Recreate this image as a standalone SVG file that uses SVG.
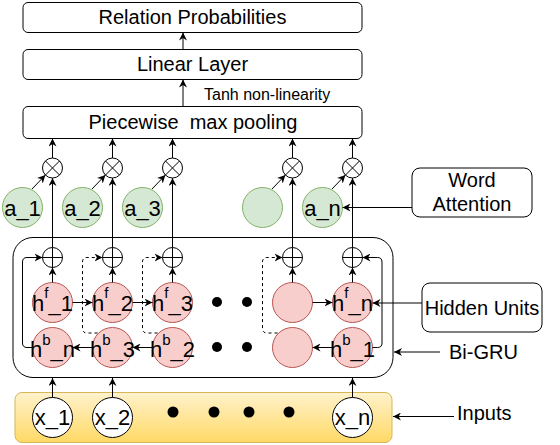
<svg xmlns="http://www.w3.org/2000/svg" width="560" height="445" viewBox="0 0 560 445">
<style>
text{font-family:"Liberation Sans",Arial,sans-serif;fill:#000}
.lbl{font-size:20px}
.cl{font-size:22px;text-anchor:middle}
.box{fill:#fff;stroke:#000;stroke-width:1}
.g{fill:#d5e8d4;stroke:#82b366;stroke-width:1}
.r{fill:#f8cecc;stroke:#b85450;stroke-width:1}
.w{fill:#fff;stroke:#000;stroke-width:1}
.op{fill:#fff;stroke:#000;stroke-width:1}
.ln{fill:none;stroke:#000;stroke-width:1}
.a{fill:none;stroke:#000;stroke-width:1;marker-end:url(#arr)}
.d{fill:none;stroke:#000;stroke-width:1;stroke-dasharray:3,3;marker-end:url(#arr)}
.dot{fill:#000}
.sup{font-size:15px}
</style>
<defs>
<marker id="arr" viewBox="0 0 10 10" refX="10" refY="5" markerWidth="8" markerHeight="8" markerUnits="userSpaceOnUse" orient="auto">
<path d="M0,0 L10,5 L0,10 L3,5 Z" fill="#000"/>
</marker>
<linearGradient id="yg" x1="0" y1="0" x2="0" y2="1">
<stop offset="0" stop-color="#fff2cc"/>
<stop offset="1" stop-color="#ffd966"/>
</linearGradient>
</defs>

<g id="inputs-band"><rect x="15" y="392.5" width="377" height="50" rx="7" fill="url(#yg)" stroke="#d6b656"/></g>
<g id="bigru"><rect x="13" y="237.5" width="380" height="140" rx="20" class="box" fill="none"/></g>

<g id="relation"><rect class="box" x="23" y="2.5" width="339" height="30" rx="5"/><text class="lbl" x="192.5" y="24" text-anchor="middle">Relation Probabilities</text></g>
<g id="linear"><rect class="box" x="23" y="49.5" width="339" height="30" rx="5"/><text class="lbl" x="192.5" y="71" text-anchor="middle">Linear Layer</text></g>
<g id="pooling"><rect class="box" x="23" y="106.5" width="339" height="32" rx="5"/><text class="lbl" x="193" y="129" text-anchor="middle" xml:space="preserve">Piecewise  max pooling</text></g>
<g id="tanh-label"><text x="204" y="100" style="font-size:16px">Tanh non-linearity</text></g>

<g id="otimes">
<g id="ot1"><circle class="op" cx="52.5" cy="168" r="10"/><path class="ln" d="M45.4,160.9 L59.6,175.1 M59.6,160.9 L45.4,175.1"/></g>
<g id="ot2"><circle class="op" cx="112.5" cy="168" r="10"/><path class="ln" d="M105.4,160.9 L119.6,175.1 M119.6,160.9 L105.4,175.1"/></g>
<g id="ot3"><circle class="op" cx="172.5" cy="168" r="10"/><path class="ln" d="M165.4,160.9 L179.6,175.1 M179.6,160.9 L165.4,175.1"/></g>
<g id="ot4"><circle class="op" cx="292.5" cy="168" r="10"/><path class="ln" d="M285.4,160.9 L299.6,175.1 M299.6,160.9 L285.4,175.1"/></g>
<g id="ot5"><circle class="op" cx="352.5" cy="168" r="10"/><path class="ln" d="M345.4,160.9 L359.6,175.1 M359.6,160.9 L345.4,175.1"/></g>
</g>

<g id="attn">
<g id="a1"><circle class="g" cx="22.5" cy="207.5" r="20"/><text class="cl" x="22.5" y="215.5">a_1</text></g>
<g id="a2"><circle class="g" cx="82.5" cy="207.5" r="20"/><text class="cl" x="82.5" y="215.5">a_2</text></g>
<g id="a3"><circle class="g" cx="142.5" cy="207.5" r="20"/><text class="cl" x="142.5" y="215.5">a_3</text></g>
<g id="a4"><circle class="g" cx="262.5" cy="207.5" r="20"/></g>
<g id="an"><circle class="g" cx="322.5" cy="207.5" r="20"/><text class="cl" x="322.5" y="215.5">a_n</text></g>
</g>

<g id="oplus">
<g id="op1"><circle class="op" cx="52.5" cy="257.5" r="10"/><path class="ln" d="M42.5,257.5 H62.5 M52.5,247.5 V267.5"/></g>
<g id="op2"><circle class="op" cx="112.5" cy="257.5" r="10"/><path class="ln" d="M102.5,257.5 H122.5 M112.5,247.5 V267.5"/></g>
<g id="op3"><circle class="op" cx="172.5" cy="257.5" r="10"/><path class="ln" d="M162.5,257.5 H182.5 M172.5,247.5 V267.5"/></g>
<g id="op4"><circle class="op" cx="292.5" cy="257.5" r="10"/><path class="ln" d="M282.5,257.5 H302.5 M292.5,247.5 V267.5"/></g>
<g id="op5"><circle class="op" cx="352.5" cy="257.5" r="10"/><path class="ln" d="M342.5,257.5 H362.5 M352.5,247.5 V267.5"/></g>
</g>

<g id="hidden">
<g id="hf1"><circle class="r" cx="52.5" cy="302.5" r="20"/><text class="cl" x="52.5" y="311">h<tspan class="sup" dy="-13">f</tspan><tspan dy="13">_1</tspan></text></g>
<g id="hf2"><circle class="r" cx="112.5" cy="302.5" r="20"/><text class="cl" x="112.5" y="311">h<tspan class="sup" dy="-13">f</tspan><tspan dy="13">_2</tspan></text></g>
<g id="hf3"><circle class="r" cx="172.5" cy="302.5" r="20"/><text class="cl" x="172.5" y="311">h<tspan class="sup" dy="-13">f</tspan><tspan dy="13">_3</tspan></text></g>
<g id="hf4"><circle class="r" cx="292.5" cy="302.5" r="20"/></g>
<g id="hfn"><circle class="r" cx="352.5" cy="302.5" r="20"/><text class="cl" x="352.5" y="311">h<tspan class="sup" dy="-13">f</tspan><tspan dy="13">_n</tspan></text></g>
<g id="hbn"><circle class="r" cx="52.5" cy="347.5" r="20"/><text class="cl" x="52.5" y="357">h<tspan class="sup" dy="-12">b</tspan><tspan dy="12">_n</tspan></text></g>
<g id="hb3"><circle class="r" cx="112.5" cy="347.5" r="20"/><text class="cl" x="112.5" y="357">h<tspan class="sup" dy="-12">b</tspan><tspan dy="12">_3</tspan></text></g>
<g id="hb2"><circle class="r" cx="172.5" cy="347.5" r="20"/><text class="cl" x="172.5" y="357">h<tspan class="sup" dy="-12">b</tspan><tspan dy="12">_2</tspan></text></g>
<g id="hb4"><circle class="r" cx="292.5" cy="347.5" r="20"/></g>
<g id="hb1"><circle class="r" cx="352.5" cy="347.5" r="20"/><text class="cl" x="352.5" y="357">h<tspan class="sup" dy="-12">b</tspan><tspan dy="12">_1</tspan></text></g>
<g id="gru-dots"><circle class="dot" cx="217" cy="302" r="5"/><circle class="dot" cx="247" cy="302" r="5"/><circle class="dot" cx="217" cy="347" r="5"/><circle class="dot" cx="247" cy="347" r="5"/></g>
</g>

<g id="xs">
<g id="x1"><circle class="w" cx="52.5" cy="417.5" r="20"/><text class="cl" x="52.5" y="425">x_1</text></g>
<g id="x2"><circle class="w" cx="112.5" cy="417.5" r="20"/><text class="cl" x="112.5" y="425">x_2</text></g>
<g id="xn"><circle class="w" cx="352.5" cy="417.5" r="20"/><text class="cl" x="352.5" y="425">x_n</text></g>
<g id="input-dots"><circle class="dot" cx="173" cy="412" r="5.5"/><circle class="dot" cx="214" cy="412" r="5.5"/><circle class="dot" cx="249" cy="412" r="5.5"/><circle class="dot" cx="289" cy="412" r="5.5"/></g>
</g>

<g id="word-attention"><rect class="box" x="412" y="168" width="120" height="49" rx="8"/><text class="lbl" x="472" y="187" text-anchor="middle">Word</text><text class="lbl" x="472" y="211" text-anchor="middle">Attention</text></g>
<g id="hidden-units"><rect class="box" x="422" y="283" width="120" height="49" rx="8"/><text class="lbl" x="482" y="314.5" text-anchor="middle">Hidden Units</text></g>
<g id="bigru-label"><text class="lbl" x="449" y="358.5">Bi-GRU</text></g>
<g id="inputs-label"><text class="lbl" x="457" y="419.5">Inputs</text></g>

<g id="connectors">
<path class="a" d="M183,49.5 V32.5"/>
<path class="a" d="M183,106.5 V79.5"/>
<path class="a" d="M52.5,158 V138.5"/>
<path class="a" d="M112.5,158 V138.5"/>
<path class="a" d="M172.5,158 V138.5"/>
<path class="a" d="M292.5,158 V138.5"/>
<path class="a" d="M352.5,158 V138.5"/>
<path class="a" d="M32,189 L45.4,175"/>
<path class="a" d="M92,189 L105.4,175"/>
<path class="a" d="M152,189 L165.4,175"/>
<path class="a" d="M272,189 L285.4,175"/>
<path class="a" d="M332,189 L345.4,175"/>
<path class="a" d="M52.5,247.5 V178"/>
<path class="a" d="M112.5,247.5 V178"/>
<path class="a" d="M172.5,247.5 V178"/>
<path class="a" d="M292.5,247.5 V178"/>
<path class="a" d="M352.5,247.5 V178"/>
<path class="a" d="M52.5,282.5 V267.5"/>
<path class="a" d="M112.5,282.5 V267.5"/>
<path class="a" d="M172.5,282.5 V267.5"/>
<path class="a" d="M292.5,282.5 V267.5"/>
<path class="a" d="M352.5,282.5 V267.5"/>
<path class="a" d="M72.5,302.5 H92.5"/>
<path class="a" d="M132.5,302.5 H152.5"/>
<path class="a" d="M312.5,302.5 H332.5"/>
<path class="a" d="M92.5,347.5 H72.5"/>
<path class="a" d="M152.5,347.5 H132.5"/>
<path class="a" d="M332.5,347.5 H312.5"/>
<path class="a" d="M32.5,347.5 H27 Q22.5,347.5 22.5,343 V262 Q22.5,257.5 27,257.5 H42.5"/>
<path class="d" d="M97.5,333 H87 Q82.5,333 82.5,328.5 V262 Q82.5,257.5 87,257.5 H102.5"/>
<path class="d" d="M157.5,333 H147 Q142.5,333 142.5,328.5 V262 Q142.5,257.5 147,257.5 H162.5"/>
<path class="d" d="M277.5,333 H267 Q262.5,333 262.5,328.5 V262 Q262.5,257.5 267,257.5 H282.5"/>
<path class="a" d="M372.5,347.5 H377.5 Q382,347.5 382,343 V262 Q382,257.5 377.5,257.5 H362.5"/>
<path class="a" d="M52.5,397.5 V378"/>
<path class="a" d="M112.5,397.5 V378"/>
<path class="a" d="M352.5,397.5 V378"/>
<path class="a" d="M412,207.5 H342.5"/>
<path class="a" d="M422,303 H372.5"/>
<path class="a" d="M440,352 H394"/>
<path class="a" d="M454,416.5 H393"/>
</g>
</svg>
